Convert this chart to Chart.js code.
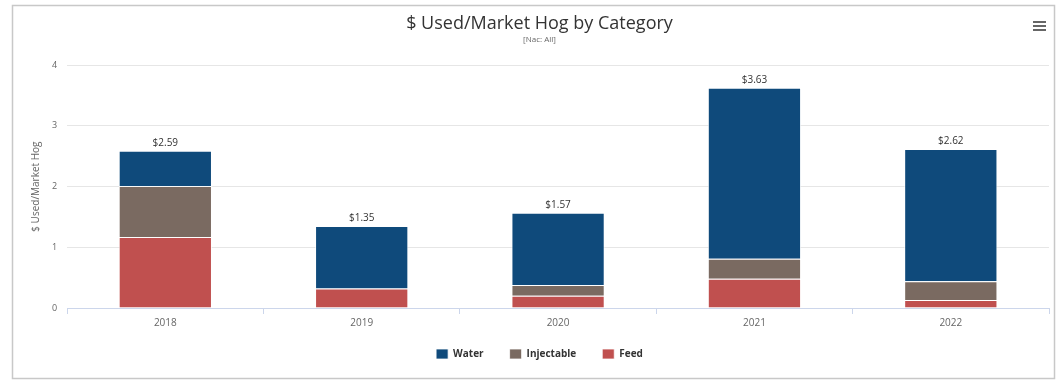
<!DOCTYPE html>
<html>
<head>
<meta charset="utf-8">
<script src="https://cdn.jsdelivr.net/npm/chart.js@4"></script>
<style>
    html, body { margin: 0; padding: 0; background: #fff; }
    #wrap { position: relative; width: 1064px; height: 380px; }
</style>
</head>
<body>
<div id="wrap"><canvas id="hog-chart" width="1064" height="380"></canvas></div>
<script>
// Dữ liệu
const years = ['2018', '2019', '2020', '2021', '2022'];
const waterValues = [0.58, 1.03, 1.19, 2.82, 2.18];
const injectableValues = [0.84, 0.0, 0.18, 0.33, 0.31];
const feedValues = [1.17, 0.32, 0.20, 0.48, 0.13];
const totalLabels = ['$2.59', '$1.35', '$1.57', '$3.63', '$2.62'];
const yTicks = [0, 1, 2, 3, 4];

const FONT = "'Open Sans', 'DejaVu Sans', sans-serif";
const LEGEND_SHRINK = 9; // bớt khoảng trống dọc của legend

// Khung viền + nút menu
const framePlugin = {
    id: 'frame',
    beforeDraw(chart) {
        const ctx = chart.ctx;
        ctx.save();
        ctx.fillStyle = '#fff';
        ctx.fillRect(0, 0, chart.width, chart.height);
        ctx.strokeStyle = '#c8c8c8';
        ctx.lineWidth = 1.5;
        ctx.strokeRect(12.5, 5.5, 1042, 373);
        // biểu tượng menu
        ctx.fillStyle = '#666';
        for (let i = 0; i < 3; i++) {
            ctx.fillRect(1033, 21 + i * 4, 13, 2);
        }
        ctx.restore();
    }
};

// Legend: giữ khoảng cách ngang rộng nhưng thu gọn chiều cao
const legendFitPlugin = {
    id: 'legendFit',
    beforeUpdate(chart) {
        const legend = chart.legend;
        if (!legend || legend._patched) return;
        const origFit = legend.fit;
        legend.fit = function () {
            origFit.call(this);
            this.height -= LEGEND_SHRINK;
        };
        legend._patched = true;
    },
    afterLayout(chart) {
        const legend = chart.legend;
        if (!legend) return;
        legend.top -= LEGEND_SHRINK;
        legend.bottom -= LEGEND_SHRINK;
    }
};

// Nhãn tổng trên đầu mỗi cột
const totalsPlugin = {
    id: 'totals',
    afterDatasetsDraw(chart) {
        const ctx = chart.ctx;
        const topMeta = chart.getDatasetMeta(chart.data.datasets.length - 1);
        ctx.save();
        ctx.font = '10px ' + FONT;
        ctx.fillStyle = '#333';
        ctx.textAlign = 'center';
        ctx.textBaseline = 'bottom';
        topMeta.data.forEach((bar, i) => {
            ctx.fillText(totalLabels[i], bar.x, bar.y - 3);
        });
        ctx.restore();
    }
};

new Chart(document.getElementById('hog-chart'), {
    type: 'bar',
    data: {
        labels: years,
        datasets: [
            { label: 'Feed', data: feedValues, backgroundColor: '#c0504f' },
            { label: 'Injectable', data: injectableValues, backgroundColor: '#7a6a61' },
            { label: 'Water', data: waterValues, backgroundColor: '#0f4a7b' }
        ].map(ds => Object.assign(ds, {
            borderColor: 'rgba(255,255,255,0.75)',
            borderWidth: 1,
            categoryPercentage: 1,
            barPercentage: 0.475
        }))
    },
    options: {
        responsive: false,
        animation: false,
        layout: { padding: { left: 30, right: 15, top: 11, bottom: 11 } },
        plugins: {
            title: {
                display: true,
                text: '$ Used/Market Hog by Category',
                color: '#333',
                font: { family: FONT, size: 18, weight: 'normal' },
                padding: { top: 2, bottom: 0 }
            },
            subtitle: {
                display: true,
                text: '[Nac: All]',
                color: '#666',
                font: { family: FONT, size: 8 },
                padding: { top: 0, bottom: 21 }
            },
            legend: {
                position: 'bottom',
                reverse: true,
                labels: {
                    boxWidth: 12,
                    boxHeight: 10,
                    padding: 26,
                    color: '#333',
                    font: { family: FONT, size: 10, weight: 'bold' }
                }
            },
            tooltip: { enabled: false }
        },
        scales: {
            x: {
                stacked: true,
                grid: {
                    display: true,
                    offset: true,
                    drawOnChartArea: false,
                    drawTicks: true,
                    tickLength: 6,
                    color: '#ccd6eb'
                },
                border: { color: '#ccd6eb' },
                ticks: { color: '#666', font: { family: FONT, size: 10 }, padding: 3 }
            },
            y: {
                stacked: true,
                min: 0,
                max: 4,
                afterBuildTicks(axis) {
                    axis.ticks = yTicks.map(v => ({ value: v }));
                },
                grid: { color: '#e6e6e6', drawTicks: false },
                border: { display: false },
                ticks: { color: '#666', font: { family: FONT, size: 9 }, padding: 10 },
                title: {
                    display: true,
                    text: '$ Used/Market Hog',
                    color: '#666',
                    font: { family: FONT, size: 10 },
                    padding: { top: 0, bottom: 0 }
                }
            }
        }
    },
    plugins: [framePlugin, legendFitPlugin, totalsPlugin]
});
</script>
</body>
</html>
